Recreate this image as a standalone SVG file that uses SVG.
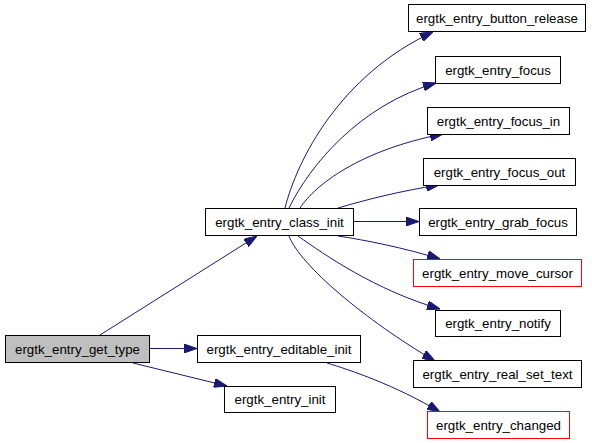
<svg xmlns="http://www.w3.org/2000/svg" width="592" height="443" viewBox="0 0 592 443">
<style>
  .n rect { fill: #ffffff; stroke: #000000; stroke-width: 1; }
  .n.red rect { stroke: #ff0000; }
  .n.cur rect { fill: #bfbfbf; }
  .n text { font-family: "Liberation Sans", Arial, Helvetica, sans-serif; font-size: 13.3px; fill: #000000; text-anchor: middle; }
  .e path { fill: none; stroke: #191970; stroke-width: 1; marker-end: url(#ah); }
</style>
<defs>
  <marker id="ah" viewBox="0 0 13 9" refX="13" refY="4.5" markerWidth="13" markerHeight="9" markerUnits="userSpaceOnUse" orient="auto">
    <path d="M0,0 L13,4.5 L0,9 z" fill="#191970" stroke="#191970" stroke-width="1"/>
  </marker>
</defs>
<rect x="0" y="0" width="592" height="443" fill="#ffffff"/>
<g id="edges" class="e">
  <path d="M100,335 L257,236"/>
  <path d="M149,348.5 L197,348.5"/>
  <path d="M133,363 L227,386"/>
  <path d="M285,208 C297,160 340,75 433,32"/>
  <path d="M289,208 C310,165 360,105 436,83"/>
  <path d="M300,208 C315,185 360,150 443,134"/>
  <path d="M338,208 C365,200 400,191 439,185"/>
  <path d="M353,221.5 L419,221.5"/>
  <path d="M338,236 C365,240 405,248 440,259"/>
  <path d="M298,236 C325,255 375,290 440,309"/>
  <path d="M289,236 C300,265 365,320 435,361"/>
  <path d="M327,363 C350,370 395,385 440,412"/>
</g>
<g id="get_type" class="n cur"><rect x="5.5" y="335.5" width="144" height="27"/><text x="77.5" y="353.5">ergtk_entry_get_type</text></g>
<g id="class_init" class="n"><rect x="205.5" y="208.5" width="148" height="27"/><text x="279.5" y="226.5">ergtk_entry_class_init</text></g>
<g id="editable_init" class="n"><rect x="197.5" y="335.5" width="163" height="27"/><text x="279" y="353.5">ergtk_entry_editable_init</text></g>
<g id="init" class="n"><rect x="224.5" y="386.5" width="111" height="26"/><text x="280" y="404">ergtk_entry_init</text></g>
<g id="button_release" class="n"><rect x="408.5" y="4.5" width="177" height="27"/><text x="497" y="22.5">ergtk_entry_button_release</text></g>
<g id="focus" class="n"><rect x="435.5" y="56.5" width="125" height="27"/><text x="498" y="74.5">ergtk_entry_focus</text></g>
<g id="focus_in" class="n"><rect x="427.5" y="107.5" width="142" height="27"/><text x="498.5" y="125.5">ergtk_entry_focus_in</text></g>
<g id="focus_out" class="n"><rect x="423.5" y="158.5" width="152" height="27"/><text x="499.5" y="176.5">ergtk_entry_focus_out</text></g>
<g id="grab_focus" class="n"><rect x="419.5" y="208.5" width="157" height="27"/><text x="498" y="226.5">ergtk_entry_grab_focus</text></g>
<g id="move_cursor" class="n red"><rect x="413.5" y="259.5" width="168" height="27"/><text x="497.5" y="277.5">ergtk_entry_move_cursor</text></g>
<g id="notify" class="n"><rect x="435.5" y="310.5" width="125" height="26"/><text x="498" y="328">ergtk_entry_notify</text></g>
<g id="real_set_text" class="n"><rect x="413.5" y="360.5" width="168" height="27"/><text x="497.5" y="378.5">ergtk_entry_real_set_text</text></g>
<g id="changed" class="n red"><rect x="427.5" y="411.5" width="142" height="27"/><text x="498.5" y="429.5">ergtk_entry_changed</text></g>
</svg>
